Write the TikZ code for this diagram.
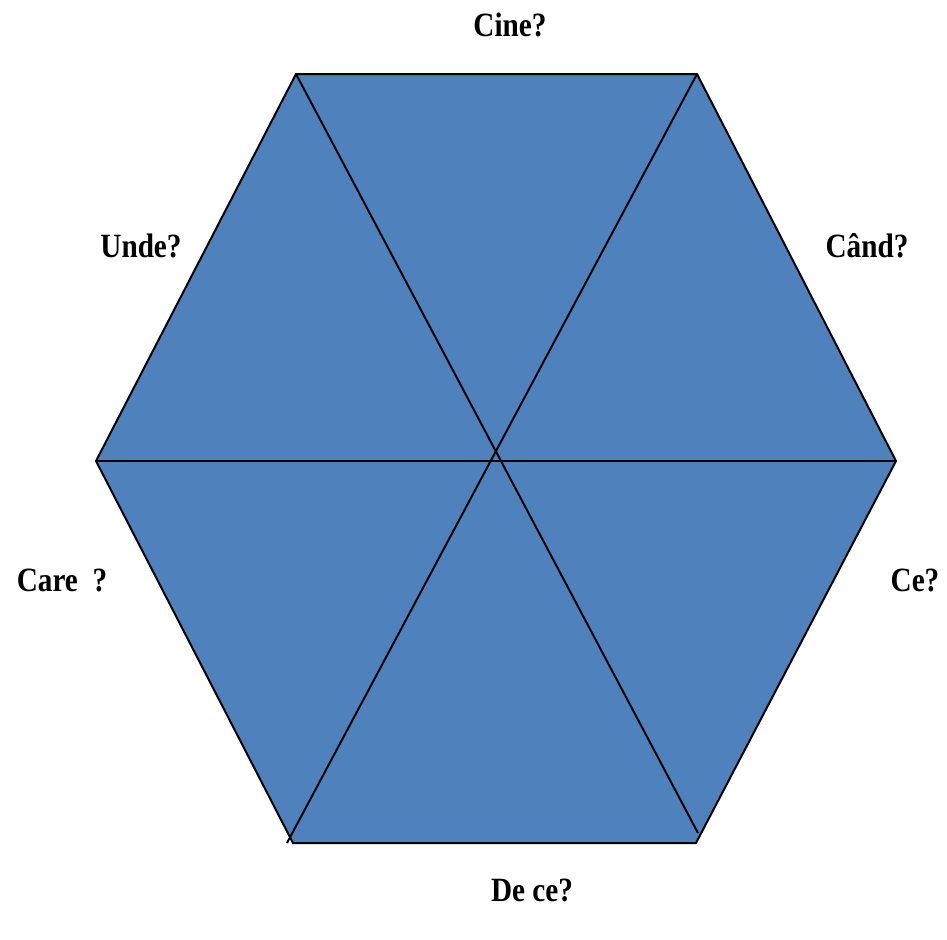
\documentclass[tikz,border=0pt]{standalone}
\usepackage{fontspec}
\setmainfont{Liberation Serif}
\usepackage{xcolor}
\usepackage{tikz}
\usetikzlibrary{positioning}
\definecolor{hexblue}{HTML}{4F81BD}
\tikzset{
  hexfill/.style = {fill=hexblue, draw=black, line width=1.7pt, line join=miter},
  spoke/.style   = {draw=black, line width=1.7pt},
  qlbl/.style    = {font=\fontsize{29}{31}\selectfont\bfseries, inner sep=0pt, xscale=0.86},
}
\begin{document}
\begin{tikzpicture}[x=0.03cm, y=-0.03cm]
  \useasboundingbox (0,0) rectangle (947,939);
  % hexagon corners
  \coordinate (tl) at (296,74);
  \coordinate (tr) at (697,74);
  \coordinate (r)  at (896,461);
  \coordinate (br) at (696,843);
  \coordinate (bl) at (293,843);
  \coordinate (l)  at (96,461);
  % ends of the diagonals
  \coordinate (d1) at (698,833);
  \coordinate (d2) at (287,843);
  \path[hexfill] (tl) -- (tr) -- (r) -- (br) -- (bl) -- (l) -- cycle;
  \draw[spoke] (l) -- (r);
  \draw[spoke] (tl) -- (d1);
  \draw[spoke] (tr) -- (d2);
  % question labels
  \node[qlbl] (cine)  at (510,25)  {Cine?};
  \node[qlbl] (cand)  at (867,246) {Când?};
  \node[qlbl] (unde)  at (141,246) {Unde?};
  \node[qlbl] (care)  at (62,580)  {Care\ \ ?};
  \node[qlbl] (ce)    at (915,580) {Ce?};
  \node[qlbl] (dece)  at (532,890) {De ce?};
\end{tikzpicture}
\end{document}
